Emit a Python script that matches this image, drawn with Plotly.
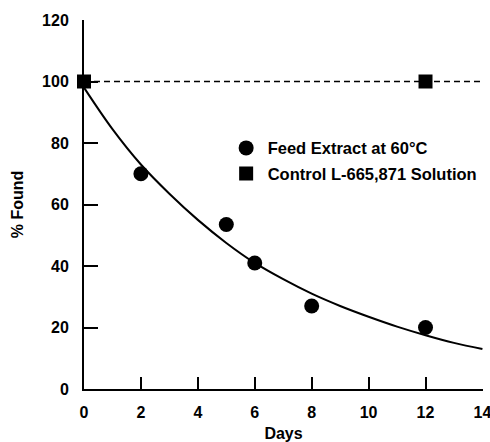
import plotly.graph_objects as go

# Data
feed_days = [2, 5, 6, 8, 12]
feed_found = [70, 53.5, 41, 27, 20]

control_days = [0, 12]
control_found = [100, 100]

ref_days = [0, 14]
ref_found = [100, 100]

fit_days = [0, 1, 2, 3, 4, 5, 6, 7, 8, 9, 10, 11, 12, 13, 14]
fit_found = [98, 84.5, 73, 63.5, 55, 47.5, 41, 35.7, 31, 27, 23.5, 20.3, 17.5, 15, 13]

x_ticks = [0, 2, 4, 6, 8, 10, 12, 14]
y_ticks = [0, 20, 40, 60, 80, 100, 120]

FONT = "Liberation Sans, Arial, sans-serif"

fig = go.Figure()
fig.add_trace(go.Scatter(x=ref_days, y=ref_found, mode="lines",
                         line=dict(color="black", width=1.5, dash="6px,4px"),
                         showlegend=False, hoverinfo="skip"))
fig.add_trace(go.Scatter(x=fit_days, y=fit_found, mode="lines",
                         line=dict(color="black", width=2, shape="spline"),
                         showlegend=False, hoverinfo="skip"))
fig.add_trace(go.Scatter(x=feed_days, y=feed_found, mode="markers",
                         marker=dict(symbol="circle", size=15, color="black"),
                         name="Feed Extract at 60°C", legendgroup="a",
                         cliponaxis=False))
fig.add_trace(go.Scatter(x=control_days, y=control_found, mode="markers",
                         marker=dict(symbol="square", size=14, color="black"),
                         name="Control L-665,871 Solution", legendgroup="b",
                         cliponaxis=False))

fig.update_layout(
    width=490, height=442,
    margin=dict(l=84, r=7, t=20, b=53),
    paper_bgcolor="white", plot_bgcolor="white",
    font=dict(family=FONT, size=16, color="black"),
    legend=dict(x=0.3525, y=0.70, xanchor="left", yanchor="top",
                bgcolor="rgba(0,0,0,0)", tracegroupgap=1, itemwidth=33,
                font=dict(family=FONT, size=16.5, color="black", weight="bold")),
    showlegend=True,
)
fig.update_xaxes(range=[0, 14.02], tickvals=x_ticks, ticks="inside", ticklen=12,
                 tickwidth=2, tickcolor="black", showline=True, linewidth=2,
                 linecolor="black", showgrid=False, zeroline=False,
                 ticklabelstandoff=8, automargin=False,
                 ticklabeloverflow="allow",
                 tickfont=dict(family=FONT, size=16, weight="bold"),
                 title=dict(text="Days", standoff=8,
                            font=dict(family=FONT, size=16, weight="bold")))
fig.update_yaxes(range=[0, 120], tickvals=y_ticks, ticks="inside", ticklen=14,
                 tickwidth=2, tickcolor="black", showline=True, linewidth=2,
                 linecolor="black", showgrid=False, zeroline=False,
                 ticklabelstandoff=10, automargin=False,
                 tickfont=dict(family=FONT, size=16, weight="bold"),
                 title=dict(text="% Found", standoff=14,
                            font=dict(family=FONT, size=16, weight="bold")))

fig.write_html("out.html", config={"displayModeBar": False},
               post_script="document.body.style.margin='0';document.body.style.overflow='hidden';")
